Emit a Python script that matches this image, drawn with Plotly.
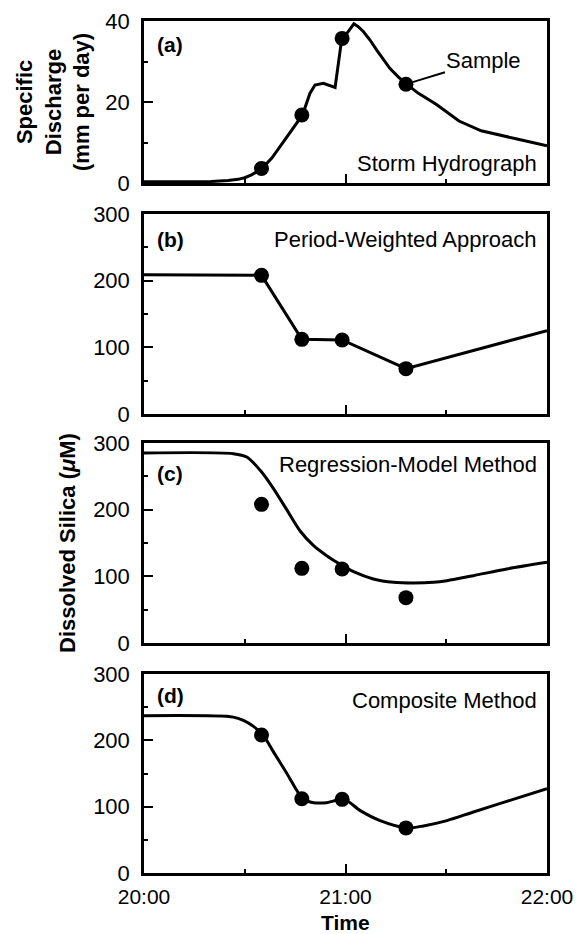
import plotly.graph_objects as go

W, H = 582, 934

# ---- data (time in minutes after 20:00) ----
sample_min = [35, 47, 59, 78]
sample_q = [3.6, 16.8, 35.7, 24.4]
sample_si = [208, 112, 111, 68]

hydro_min = [0, 10, 20, 25, 28, 30, 32, 35, 38, 40.5, 44, 47.2, 49.4, 50.9, 53.4,
             56.9, 58.7, 59.3, 62.5, 63.8, 65.3, 67.3, 69.3, 71.3, 73.2, 75.7, 78.2,
             81.6, 87.1, 93.8, 100.4, 111.4, 120]
hydro_q = [0.3, 0.3, 0.4, 0.6, 0.9, 1.3, 2.0, 3.5, 6.1, 9.0, 13.2, 16.8, 22.1, 24.2, 24.6,
           23.6, 34.5, 35.7, 39.3, 38.6, 37.4, 35.3, 32.8, 30.4, 28.3, 26.2, 24.4,
           22.2, 19.4, 15.3, 12.9, 10.8, 9.2]

period_min = [0, 35, 47, 59, 78, 120]
period_si = [209, 208, 112, 111, 68, 125]

regress_min = [0, 26.6, 30.6, 34.6, 38.5, 42.5, 46.5, 50.5, 54.4, 58.4, 62.4, 68.3,
               74.3, 80.3, 86.2, 90.2, 98.1, 108, 120]
regress_si = [285, 284, 279, 259, 232, 200, 168, 146, 131, 118, 107, 96,
              91, 90, 91, 93.5, 101, 111, 121]

comp_min = [0, 26.6, 29.6, 32.6, 35.6, 38.5, 42.5, 47.3, 50.5, 54.4, 59.6, 64.4,
            70.3, 78.3, 83.2, 90.2, 98.1, 108, 120]
comp_si = [237, 235, 230, 221, 207, 183, 150.5, 112, 106, 106, 111, 94,
           79, 68, 71, 79, 92, 108, 127]

time_ticks = [0, 60, 120]
time_labels = ["20:00", "21:00", "22:00"]

FONT = "Liberation Sans, Arial, Helvetica, sans-serif"
LW = 3
MS = 15

fig = go.Figure()

def add_line(x, y, ax, shape="linear"):
    fig.add_trace(go.Scatter(x=x, y=y, mode="lines", xaxis=ax[0], yaxis=ax[1],
                             line=dict(color="black", width=LW, shape=shape,
                                       smoothing=0.8),
                             showlegend=False, hoverinfo="skip"))

def add_pts(x, y, ax):
    fig.add_trace(go.Scatter(x=x, y=y, mode="markers", xaxis=ax[0], yaxis=ax[1],
                             marker=dict(color="black", size=MS),
                             showlegend=False, cliponaxis=False))

axes = [("x", "y"), ("x2", "y2"), ("x3", "y3"), ("x4", "y4")]

add_line(hydro_min, hydro_q, axes[0])
add_pts(sample_min, sample_q, axes[0])
add_line(period_min, period_si, axes[1])
add_pts(sample_min, sample_si, axes[1])
add_line(regress_min, regress_si, axes[2], "spline")
add_pts(sample_min, sample_si, axes[2])
add_line(comp_min, comp_si, axes[3], "spline")
add_pts(sample_min, sample_si, axes[3])

# panel pixel extents (top, bottom)
panels = [(21, 183), (214, 414), (443, 643), (674, 873)]
x_left, x_right = 144, 547
xdom = [x_left / W, x_right / W]

def ydom(t, b):
    return [1 - b / H, 1 - t / H]

tickfont = dict(family=FONT, size=22, color="black")
xtickfont = dict(family=FONT, size=21, color="black")
layout = dict(width=W, height=H, margin=dict(l=0, r=0, t=0, b=0),
              paper_bgcolor="white", plot_bgcolor="white", showlegend=False,
              template="none")

for i, (t, b) in enumerate(panels):
    sx = "" if i == 0 else str(i + 1)
    last = i == 3
    layout["xaxis" + sx] = dict(
        domain=xdom, anchor="y" + sx, range=[0, 120],
        tickmode="array", tickvals=time_ticks, ticktext=time_labels,
        showticklabels=last, ticks="inside", ticklen=9, tickwidth=1.5,
        tickcolor="black",
        minor=dict(dtick=30, tick0=0, ticks="inside", ticklen=4, tickwidth=1.5,
                   tickcolor="black"),
        showline=True, linecolor="black", linewidth=2.5, mirror=True,
        showgrid=False, zeroline=False, tickfont=xtickfont,
        ticklabelstandoff=3, automargin=False, fixedrange=True)
    if i == 0:
        yr, dt, mdt = [0, 40], 20, 10
    else:
        yr, dt, mdt = [0, 300], 100, 50
    layout["yaxis" + sx] = dict(
        domain=ydom(t, b), anchor="x" + sx, range=yr, dtick=dt, tick0=0,
        ticks="inside", ticklen=9, tickwidth=1.5, tickcolor="black",
        minor=dict(dtick=mdt, tick0=0, ticks="inside", ticklen=4, tickwidth=1.5,
                   tickcolor="black"),
        showline=True, linecolor="black", linewidth=2.5, mirror=True,
        showgrid=False, zeroline=False, tickfont=tickfont,
        ticklabelstandoff=7, automargin=False, fixedrange=True)

fig.update_layout(**layout)

def px_ann(text, x, y, xanchor="center", yanchor="middle", size=22, bold=False,
           angle=0):
    fig.add_annotation(text=f"<b>{text}</b>" if bold else text,
                       x=x / W, y=1 - y / H, xref="paper", yref="paper",
                       xanchor=xanchor, yanchor=yanchor, showarrow=False,
                       textangle=angle,
                       font=dict(family=FONT, size=size, color="black"))

# panel letters
for lab, y in zip(["(a)", "(b)", "(c)", "(d)"], [44, 240, 473, 695]):
    px_ann(lab, 155, y, xanchor="left", size=21, bold=True)

# method labels
for lab, y in zip(["Storm Hydrograph", "Period-Weighted Approach",
                   "Regression-Model Method", "Composite Method"],
                  [163, 240, 464, 700]):
    px_ann(lab, 539, y, xanchor="right", size=22)

# axis titles
px_ann("Specific<br>Discharge<br>(mm per day)", 53, 102, bold=True, angle=-90)
px_ann("Dissolved Silica (<i>μ</i>M)", 67, 543, bold=True, angle=-90)
px_ann("Time", 345, 922, size=21, bold=True)

# Sample leader
fig.add_annotation(text="Sample", x=sample_min[3], y=sample_q[3], xref="x", yref="y",
                   ax=78, ay=-24, showarrow=True, arrowhead=0, arrowwidth=2,
                   arrowcolor="black", standoff=7,
                   font=dict(family=FONT, size=22, color="black"))

fig.write_html("out.html")
